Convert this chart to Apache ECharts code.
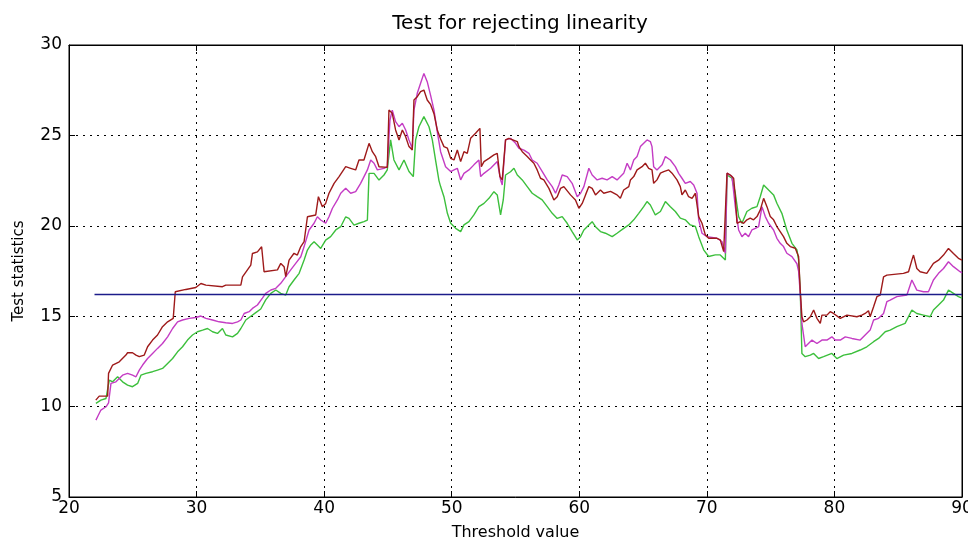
<!DOCTYPE html>
<html>
<head>
<meta charset="utf-8">
<script src="https://cdn.jsdelivr.net/npm/echarts@6/dist/echarts.min.js"></script>
<style>html,body{margin:0;padding:0;background:#fff}#chart{width:968px;height:542px}</style>
</head>
<body>
<div id="chart"></div>
<script>
const titleText = 'Test for rejecting linearity';
const xAxisName = 'Threshold value';
const yAxisName = 'Test statistics';

const redX = [22.1,22.37,23.03,23.1,23.42,23.94,24.46,24.59,24.98,25.25,25.51,25.9,26.16,26.55,26.94,27.33,27.73,28.17,28.33,29.16,29.94,30.34,30.73,32.03,32.08,32.29,33.47,33.6,34.25,34.38,34.77,35.1,35.29,36.34,36.6,36.86,36.99,37.25,37.64,37.9,38.17,38.43,38.69,39.34,39.55,39.86,40.12,40.38,40.78,41.17,41.69,42.08,42.47,42.73,43.12,43.52,43.78,44.04,44.3,44.95,45.08,45.34,45.6,45.87,46.13,46.39,46.65,46.91,47.04,47.3,47.56,47.82,48.08,48.35,48.61,48.87,49.13,49.39,49.66,49.92,50.18,50.44,50.7,50.96,51.22,51.48,51.87,52.21,52.32,52.53,52.92,53.31,53.57,53.78,53.96,54.22,54.48,55.14,55.27,55.53,55.92,56.18,56.44,56.7,56.96,57.22,57.62,58.01,58.27,58.53,58.79,59.31,59.7,59.97,60.23,60.49,60.75,61.01,61.27,61.66,61.92,62.45,62.96,63.22,63.48,63.88,64.01,64.27,64.53,64.92,65.18,65.44,65.7,65.83,66.09,66.36,66.62,67.01,67.27,67.66,67.92,68.05,68.31,68.57,68.84,69.1,69.23,69.36,69.62,69.88,70.14,70.79,71.05,71.32,71.58,71.84,72.1,72.23,72.36,72.62,72.88,73.14,73.4,73.66,73.93,74.19,74.45,74.71,74.97,75.23,75.49,75.75,76.01,76.27,76.54,76.93,77.19,77.32,77.45,77.58,77.85,78.11,78.37,78.63,78.89,79.02,79.41,79.67,79.93,80.46,80.98,81.76,82.15,82.41,82.67,82.8,83.07,83.33,83.59,83.85,84.11,85.41,85.81,86.07,86.2,86.46,86.72,87.24,87.76,88.16,88.55,88.94,89.33,89.72,90];
const redY = [10.36,10.58,10.58,11.84,12.3,12.48,12.85,12.98,12.98,12.85,12.76,12.85,13.31,13.68,13.96,14.42,14.69,14.88,16.35,16.48,16.59,16.81,16.72,16.63,16.54,16.72,16.72,17.18,17.83,18.47,18.56,18.84,17.46,17.56,17.92,17.74,17.19,18.1,18.48,18.38,18.85,19.12,20.5,20.6,21.61,21.06,21.24,21.8,22.35,22.72,23.27,23.18,23.09,23.64,23.64,24.56,24.1,23.82,23.27,23.23,26.4,26.22,25.3,24.75,25.3,24.93,24.38,24.19,26.96,27.14,27.42,27.51,26.96,26.7,26.2,25.3,24.8,24.38,24.29,23.73,23.64,24.19,23.55,24.1,24.01,24.84,25.12,25.39,23.27,23.55,23.73,23.92,24.01,22.72,22.54,24.75,24.84,24.66,24.38,24.1,23.83,23.64,23.46,23.09,22.63,22.54,22.07,21.43,21.61,22.07,22.17,21.71,21.43,20.97,21.24,21.71,22.17,22.07,21.71,21.98,21.8,21.9,21.71,21.52,21.98,22.17,22.54,22.72,23.09,23.27,23.46,23.18,23.09,22.35,22.54,22.91,23.0,23.09,22.91,22.54,22.17,21.71,21.98,21.61,21.52,21.8,21.15,20.51,20.14,19.5,19.31,19.31,19.22,18.57,22.91,22.81,22.63,21.62,20.14,20.23,20.14,20.33,20.42,20.33,20.51,20.88,21.52,21.06,20.51,20.33,19.96,19.68,19.4,19.03,18.85,18.76,18.3,16.44,14.97,14.69,14.79,14.97,15.34,14.88,14.6,15.06,15.06,15.25,15.15,14.88,15.06,14.97,15.06,15.15,15.3,14.97,15.52,16.08,16.17,17.18,17.27,17.37,17.46,18.1,18.38,17.64,17.46,17.37,17.92,18.1,18.38,18.75,18.47,18.2,18.1];

const magentaX = [22.11,22.24,22.5,22.9,23.1,23.29,23.68,24.2,24.59,24.98,25.25,25.51,25.77,26.16,26.55,26.94,27.33,27.73,28.12,28.51,28.9,29.42,29.94,30.34,30.73,31.25,31.77,32.29,32.82,33.21,33.47,33.73,34.12,34.38,34.77,35.16,35.42,35.82,36.21,36.6,36.99,37.38,37.77,38.17,38.43,38.82,39.21,39.47,39.73,40.12,40.38,40.65,41.04,41.3,41.69,42.08,42.47,42.86,43.39,43.65,43.91,44.17,44.69,44.95,45.16,45.34,45.6,45.87,46.13,46.39,46.65,46.91,47.04,47.3,47.56,47.82,48.08,48.35,48.61,48.87,49.13,49.52,49.92,50.18,50.44,50.7,50.96,51.35,51.74,52.13,52.27,52.53,53.05,53.57,53.83,53.96,54.22,54.61,55.01,55.27,55.66,56.05,56.31,56.7,57.1,57.49,57.88,58.14,58.4,58.66,59.05,59.44,59.84,60.1,60.36,60.75,61.01,61.4,61.79,62.18,62.58,62.96,63.48,63.75,64.01,64.27,64.53,64.79,65.05,65.31,65.57,65.7,65.83,66.09,66.49,66.75,67.14,67.53,67.79,68.05,68.31,68.7,68.97,69.23,69.36,69.62,70.01,70.79,71.18,71.45,71.58,71.97,72.23,72.49,72.75,73.01,73.27,73.53,73.8,74.06,74.32,74.58,74.84,75.23,75.49,75.75,76.01,76.27,76.67,77.06,77.19,77.32,77.45,77.71,78.24,78.37,78.63,79.02,79.41,79.8,80.06,80.46,80.85,81.37,82.02,82.41,82.8,83.07,83.46,83.85,84.11,84.37,84.89,85.68,86.07,86.46,86.98,87.37,87.76,88.16,88.55,88.94,89.33,89.85,90];
const magentaY = [9.25,9.44,9.81,9.99,10.2,11.28,11.37,11.74,11.84,11.74,11.65,12.02,12.3,12.66,12.94,13.22,13.49,13.86,14.32,14.69,14.79,14.88,14.93,15.01,14.88,14.79,14.69,14.64,14.6,14.69,14.79,15.15,15.25,15.43,15.62,16.0,16.26,16.45,16.54,16.82,17.19,17.56,17.92,18.29,18.85,19.77,20.14,20.5,20.32,20.14,20.5,20.97,21.43,21.8,22.07,21.8,21.89,22.35,23.09,23.64,23.46,23.09,23.18,23.27,25.85,26.4,25.76,25.48,25.67,25.3,24.75,24.28,26.4,27.33,27.88,28.43,27.97,27.2,26.4,25.2,24.1,23.27,23.0,23.09,23.18,22.54,22.9,23.09,23.37,23.64,22.72,22.9,23.18,23.55,22.54,22.26,24.75,24.84,24.56,24.29,24.19,24.01,23.64,23.46,23.0,22.54,22.17,21.8,22.26,22.81,22.72,22.35,21.61,21.8,22.17,23.18,22.81,22.54,22.63,22.54,22.72,22.54,22.9,23.46,23.09,23.64,23.83,24.38,24.57,24.75,24.66,24.38,23.27,23.09,23.37,23.83,23.64,23.27,22.9,22.63,22.35,22.45,22.26,21.8,20.33,19.59,19.4,19.31,19.13,18.48,22.91,22.72,21.06,19.77,19.4,19.59,19.4,19.77,19.86,19.96,21.06,20.51,20.14,19.77,19.31,19.03,18.85,18.48,18.3,17.9,17.5,16.26,14.6,13.31,13.68,13.77,13.49,13.68,13.68,13.86,13.68,13.68,13.86,13.77,13.68,13.96,14.23,14.79,14.88,15.15,15.8,15.89,16.08,16.17,17.0,16.44,16.35,16.35,17.0,17.37,17.64,18.01,17.74,17.46,17.4];

const greenX = [22.11,22.5,22.9,23.16,23.42,23.81,24.2,24.59,24.98,25.38,25.64,26.03,26.55,26.94,27.33,27.73,28.12,28.51,28.9,29.29,29.68,30.07,30.47,30.86,31.25,31.64,32.03,32.29,32.82,33.21,33.47,33.86,34.25,34.64,35.03,35.42,35.82,36.21,36.6,36.99,37.25,37.64,38.04,38.43,38.69,38.95,39.21,39.47,39.73,40.12,40.51,40.91,41.3,41.69,41.95,42.34,42.73,43.12,43.39,43.52,43.91,44.3,44.69,44.95,45.21,45.47,45.87,46.26,46.65,46.99,47.17,47.43,47.82,48.22,48.48,48.74,49.0,49.13,49.39,49.66,49.92,50.31,50.7,50.96,51.35,51.74,52.13,52.53,52.92,53.31,53.57,53.83,54.04,54.22,54.61,54.88,55.14,55.53,55.92,56.31,56.7,57.09,57.49,57.88,58.27,58.66,59.05,59.44,59.84,60.1,60.36,60.75,61.01,61.27,61.66,62.05,62.58,62.96,63.48,63.88,64.27,64.66,65.05,65.31,65.57,65.96,66.36,66.75,67.14,67.53,67.92,68.31,68.7,69.1,69.36,69.75,70.14,70.66,71.05,71.45,71.58,71.97,72.23,72.49,72.75,73.14,73.53,73.93,74.19,74.45,74.84,75.23,75.49,75.88,76.27,76.67,77.06,77.19,77.32,77.45,77.71,78.11,78.37,78.76,79.15,79.8,80.19,80.72,81.37,82.02,82.54,83.07,83.46,83.98,84.37,84.89,85.54,86.07,86.46,86.98,87.5,87.76,88.16,88.55,88.94,89.33,89.72,90];
const greenY = [10.18,10.36,10.45,11.47,11.37,11.65,11.37,11.19,11.1,11.28,11.74,11.84,11.93,12.02,12.11,12.39,12.66,13.03,13.31,13.68,13.96,14.14,14.23,14.32,14.14,14.05,14.32,13.96,13.86,14.05,14.32,14.79,15.0,15.2,15.4,15.9,16.26,16.45,16.26,16.17,16.63,17.0,17.37,18.11,18.66,18.94,19.12,18.94,18.75,19.21,19.4,19.77,19.95,20.5,20.41,20.04,20.14,20.23,20.32,22.9,22.9,22.53,22.81,23.09,24.75,23.64,23.09,23.64,23.0,22.72,24.75,25.48,26.04,25.48,24.75,23.6,22.5,22.17,21.61,20.69,20.14,19.86,19.68,20.05,20.23,20.6,21.06,21.24,21.52,21.89,21.71,20.6,21.43,22.81,22.99,23.18,22.81,22.54,22.17,21.8,21.61,21.43,21.06,20.69,20.41,20.51,20.14,19.68,19.22,19.4,19.77,20.05,20.23,19.95,19.68,19.59,19.4,19.59,19.86,20.05,20.33,20.69,21.06,21.34,21.15,20.6,20.79,21.34,21.06,20.79,20.42,20.33,20.05,19.96,19.4,18.67,18.3,18.39,18.39,18.11,22.81,22.63,21.8,20.51,20.14,20.79,20.97,21.06,21.62,22.26,21.98,21.71,21.25,20.69,19.77,19.03,18.67,18.11,16.44,12.94,12.76,12.85,12.94,12.66,12.76,12.94,12.66,12.85,12.94,13.13,13.31,13.59,13.77,14.14,14.23,14.42,14.6,15.34,15.15,15.06,14.97,15.34,15.62,15.89,16.44,16.26,16.08,16.0];

const criticalX = [22, 90];
const criticalY = [16.2, 16.2];

const xTicks = [20, 90, 10];
const yTicks = [5, 30, 5];

function pairs(xs, ys) { return xs.map((x, i) => [x, ys[i]]); }

const font = 'DejaVu Sans, sans-serif';
const chart = echarts.init(document.getElementById('chart'), null, { renderer: 'canvas' });
const dotted = { color: '#000', width: 1, type: [2, 5] };
chart.setOption({
  animation: false,
  backgroundColor: '#fff',
  title: {
    text: titleText, left: 515, top: 9, textAlign: 'center',
    textStyle: { fontFamily: font, fontSize: 20, fontWeight: 'normal', color: '#000' }
  },
  grid: { left: 69, right: 6, top: 45, bottom: 45, show: true, borderColor: '#000', borderWidth: 1, backgroundColor: 'transparent', outerBoundsMode: 'none', containLabel: false },
  xAxis: [{
    type: 'value', min: xTicks[0], max: xTicks[1], interval: xTicks[2],
    name: xAxisName, nameLocation: 'middle', nameGap: 28,
    nameTextStyle: { fontFamily: font, fontSize: 16, color: '#000' },
    axisLine: { show: true, lineStyle: { color: '#000' } },
    axisTick: { show: true, inside: true, length: 6, lineStyle: { color: '#000' } },
    axisLabel: { fontFamily: font, fontSize: 17, color: '#000', margin: 3 },
    splitLine: { show: true, lineStyle: dotted }
  }, {
    type: 'value', position: 'top', min: xTicks[0], max: xTicks[1], interval: xTicks[2],
    axisLine: { show: true, lineStyle: { color: '#000' } },
    axisTick: { show: true, inside: true, length: 6, lineStyle: { color: '#000' } },
    axisLabel: { show: false }, splitLine: { show: false }
  }],
  yAxis: [{
    type: 'value', min: yTicks[0], max: yTicks[1], interval: yTicks[2],
    name: yAxisName, nameLocation: 'middle', nameGap: 42, nameRotate: 90,
    nameTextStyle: { fontFamily: font, fontSize: 15, color: '#000' },
    axisLine: { show: true, lineStyle: { color: '#000' } },
    axisTick: { show: true, inside: true, length: 6, lineStyle: { color: '#000' } },
    axisLabel: { fontFamily: font, fontSize: 17, color: '#000', margin: 7 },
    splitLine: { show: true, lineStyle: dotted }
  }, {
    type: 'value', position: 'right', min: yTicks[0], max: yTicks[1], interval: yTicks[2],
    axisLine: { show: true, lineStyle: { color: '#000' } },
    axisTick: { show: true, inside: true, length: 6, lineStyle: { color: '#000' } },
    axisLabel: { show: false }, splitLine: { show: false }
  }],
  series: [
    { type: 'line', data: pairs(greenX, greenY), showSymbol: false, lineStyle: { color: '#3cbf3c', width: 1.4 }, z: 2 },
    { type: 'line', data: pairs(magentaX, magentaY), showSymbol: false, lineStyle: { color: '#c43cc4', width: 1.4 }, z: 3 },
    { type: 'line', data: pairs(redX, redY), showSymbol: false, lineStyle: { color: '#9e1a1a', width: 1.4 }, z: 4 },
    { type: 'line', data: pairs(criticalX, criticalY), showSymbol: false, lineStyle: { color: '#1c1c8a', width: 1.4 }, z: 5 }
  ]
});
</script>
</body>
</html>
